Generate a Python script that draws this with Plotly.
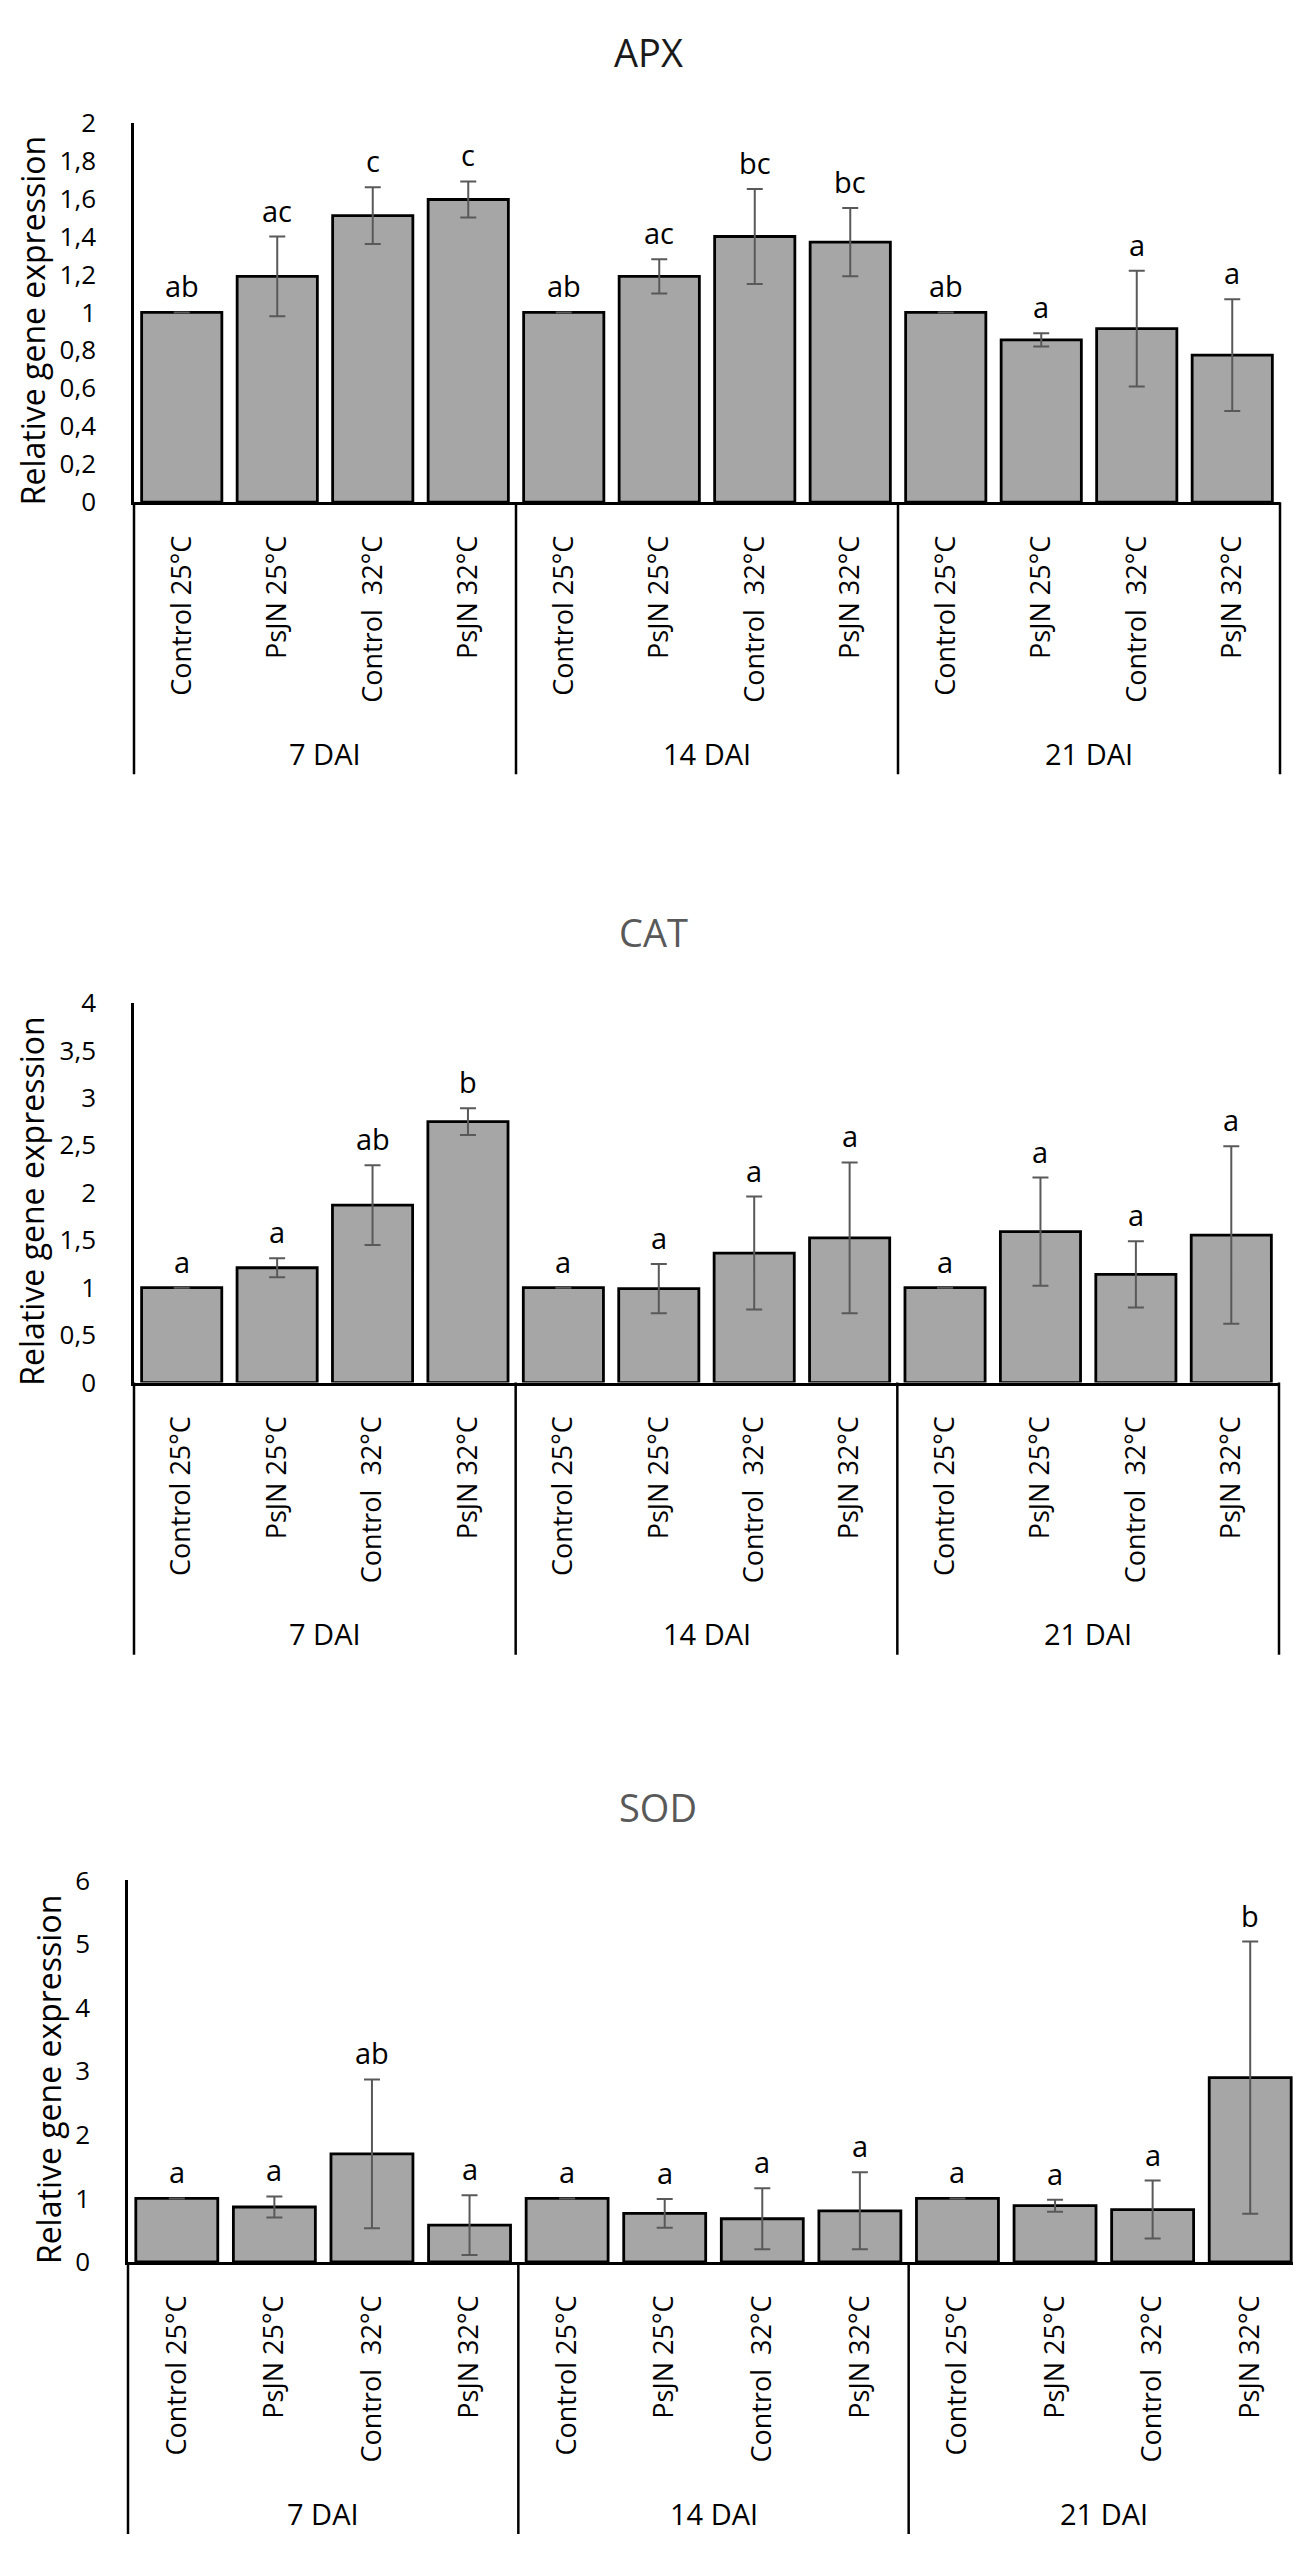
import plotly.graph_objects as go

# Etiquetas del eje x
tratamientos = ["Control 25°C", "PsJN 25°C", "Control  32°C", "PsJN 32°C"]
dias = ["7 DAI", "14 DAI", "21 DAI"]

# APX
apx_media = [1.00, 1.19, 1.51, 1.595, 1.00, 1.19, 1.40, 1.37, 1.00, 0.855, 0.915, 0.775]
apx_error = [0.00, 0.21, 0.15, 0.095, 0.00, 0.09, 0.25, 0.18, 0.00, 0.035, 0.305, 0.295]
apx_letras = ["ab", "ac", "c", "c", "ab", "ac", "bc", "bc", "ab", "a", "a", "a"]

# CAT
cat_media = [1.00, 1.21, 1.87, 2.75, 1.00, 0.99, 1.365, 1.525, 1.00, 1.59, 1.14, 1.555]
cat_error = [0.00, 0.10, 0.42, 0.14, 0.00, 0.26, 0.595, 0.795, 0.00, 0.57, 0.35, 0.935]
cat_letras = ["a", "a", "ab", "b", "a", "a", "a", "a", "a", "a", "a", "a"]

# SOD
sod_media = [1.00, 0.865, 1.70, 0.58, 1.00, 0.765, 0.68, 0.805, 1.00, 0.885, 0.825, 2.90]
sod_error = [0.00, 0.165, 1.17, 0.47, 0.00, 0.225, 0.48, 0.605, 0.00, 0.095, 0.455, 2.14]
sod_letras = ["a", "a", "ab", "a", "a", "a", "a", "a", "a", "a", "a", "b"]

W, H = 1301, 2550
FUENTE = "Open Sans"

# geometria de cada panel en pixeles
paneles = [
    dict(nombre="APX", media=apx_media, error=apx_error, letras=apx_letras,
         ymax=2, dtick=0.2, left=126, right=1272, top=97, bottom=482,
         titulo_x=640, titulo_y=25, titulo_color="#1a1a1a", ytit_x=24),
    dict(nombre="CAT", media=cat_media, error=cat_error, letras=cat_letras,
         ymax=4, dtick=0.5, left=126, right=1271, top=990, bottom=1375,
         titulo_x=645, titulo_y=918, titulo_color="#595959", ytit_x=24),
    dict(nombre="SOD", media=sod_media, error=sod_error, letras=sod_letras,
         ymax=6, dtick=1, left=120, right=1291, top=1880, bottom=2267,
         titulo_x=650, titulo_y=1805, titulo_color="#595959", ytit_x=40),
]

etiquetas = [t for _ in dias for t in tratamientos]
posiciones = list(range(len(etiquetas)))

fig = go.Figure()
shapes = []
annotations = []

for i, p in enumerate(paneles):
    n = "" if i == 0 else str(i + 1)
    xa, ya = "x" + n, "y" + n
    alto = p["bottom"] - p["top"]

    fig.add_trace(go.Bar(
        x=posiciones, y=p["media"], xaxis=xa, yaxis=ya,
        marker=dict(color="#a6a6a6", line=dict(color="#000000", width=2.8)),
        error_y=dict(type="data", array=p["error"], visible=True,
                     color="#595959", thickness=2, width=8),
        showlegend=False, hoverinfo="skip"
    ))

    # letras de significancia sobre las barras de error
    for x, m, e, letra in zip(posiciones, p["media"], p["error"], p["letras"]):
        annotations.append(dict(
            text=letra, xref=xa, yref=ya, x=x, y=m + e, showarrow=False,
            xanchor="center", yanchor="bottom", yshift=5,
            font=dict(family=FUENTE, size=29, color="#000000")))

    fig.update_layout({
        "xaxis" + n: dict(
            domain=[p["left"] / W, p["right"] / W], anchor=ya,
            range=[-0.5, len(etiquetas) - 0.5],
            tickmode="array", tickvals=posiciones, ticktext=etiquetas,
            tickangle=-90, ticks="", ticklabelstandoff=20,
            tickfont=dict(family=FUENTE, size=27, color="#000000"),
            showline=True, linecolor="#000000", linewidth=2.5,
            showgrid=False, zeroline=False, fixedrange=True),
        "yaxis" + n: dict(
            domain=[1 - p["bottom"] / H, 1 - p["top"] / H], anchor=xa,
            range=[0, p["ymax"]], dtick=p["dtick"], tick0=0,
            ticks="", ticklabelstandoff=30,
            tickfont=dict(family=FUENTE, size=26, color="#000000"),
            showline=True, linecolor="#000000", linewidth=2.5,
            showgrid=False, zeroline=False, fixedrange=True),
    })

    # lineas separadoras de los grupos de dias
    fondo = -276 / alto
    for k in range(len(dias) + 1):
        shapes.append(dict(
            type="line", xref=xa + " domain", yref=ya + " domain",
            x0=k / len(dias), x1=k / len(dias), y0=0, y1=fondo,
            line=dict(color="#000000", width=2.5)))
    for k, d in enumerate(dias):
        annotations.append(dict(
            text=d, xref=xa + " domain", yref=ya + " domain",
            x=(k + 0.5) / len(dias), y=-255 / alto, showarrow=False,
            xanchor="center", yanchor="middle",
            font=dict(family=FUENTE, size=29, color="#000000")))

    annotations.append(dict(
        text=p["nombre"], xref="paper", yref="paper",
        x=p["titulo_x"] / W, y=1 - p["titulo_y"] / H, showarrow=False,
        xanchor="center", yanchor="middle",
        font=dict(family=FUENTE, size=38, color=p["titulo_color"])))
    annotations.append(dict(
        text="Relative gene expression", xref="paper", yref="paper",
        x=p["ytit_x"] / W, y=1 - ((p["top"] + p["bottom"]) / 2 + 9) / H,
        showarrow=False, textangle=-90, xanchor="center", yanchor="middle",
        font=dict(family=FUENTE, size=32, color="#000000")))

fig.update_layout(
    width=W, height=H,
    margin=dict(l=0, r=0, t=0, b=0),
    paper_bgcolor="#ffffff", plot_bgcolor="#ffffff",
    separators=",.",
    bargap=0.16,
    shapes=shapes,
    annotations=annotations,
    font=dict(family=FUENTE, color="#000000"),
)

fig.write_html("out.html")
